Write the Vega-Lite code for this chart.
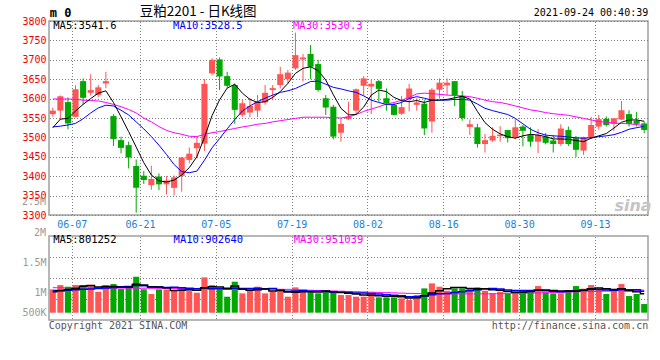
{
"$schema": "https://vega.github.io/schema/vega-lite/v6.json",
"autosize": {"type": "pad"},
"padding": {"left": 21, "top": 3, "right": 0, "bottom": 0},
"background": "white",
"spacing": 21,
"bounds": "flush",
"datasets": {"k": [
{"d":"06-02","o":3560,"h":3577,"l":3553,"c":3569,"v":983000,"m5":3525,"m10":3527,"m30":3599,"v5":884000,"v10":930000,"v30":1054000},
{"d":"06-03","o":3569,"h":3608,"l":3545,"c":3606,"v":1165000,"m5":3547,"m10":3529,"m30":3599,"v5":930000,"v10":939000,"v30":1052000},
{"d":"06-04","o":3591,"h":3603,"l":3521,"c":3536,"v":1096000,"m5":3549,"m10":3532,"m30":3599,"v5":977000,"v10":949000,"v30":1050000},
{"d":"06-07","o":3553,"h":3634,"l":3551,"c":3624,"v":1165000,"m5":3568,"m10":3536,"m30":3598,"v5":1023000,"v10":967000,"v30":1049000},
{"d":"06-08","o":3645,"h":3652,"l":3585,"c":3602,"v":1165000,"m5":3585,"m10":3548,"m30":3596,"v5":1115000,"v10":986000,"v30":1047000},
{"d":"06-09","o":3615,"h":3663,"l":3608,"c":3622,"v":1123000,"m5":3600,"m10":3563,"m30":3595,"v5":1143000,"v10":1004000,"v30":1045000},
{"d":"06-10","o":3609,"h":3635,"l":3604,"c":3629,"v":884000,"m5":3614,"m10":3576,"m30":3594,"v5":1087000,"v10":1023000,"v30":1043000},
{"d":"06-11","o":3639,"h":3669,"l":3627,"c":3645,"v":1165000,"m5":3620,"m10":3583,"m30":3590,"v5":1101000,"v10":1042000,"v30":1041000},
{"d":"06-15","o":3555,"h":3560,"l":3478,"c":3496,"v":1208000,"m5":3590,"m10":3581,"m30":3585,"v5":1109000,"v10":1060000,"v30":1039000},
{"d":"06-16","o":3493,"h":3502,"l":3459,"c":3473,"v":997000,"m5":3553,"m10":3570,"m30":3579,"v5":1076000,"v10":1096000,"v30":1037000},
{"d":"06-17","o":3480,"h":3489,"l":3420,"c":3448,"v":1123000,"m5":3515,"m10":3558,"m30":3572,"v5":1076000,"v10":1109000,"v30":1035000},
{"d":"06-18","o":3426,"h":3443,"l":3306,"c":3370,"v":1517000,"m5":3475,"m10":3540,"m30":3563,"v5":1202000,"v10":1145000,"v30":1034000},
{"d":"06-21","o":3401,"h":3413,"l":3380,"c":3390,"v":983000,"m5":3435,"m10":3522,"m30":3550,"v5":1165000,"v10":1134000,"v30":1032000},
{"d":"06-22","o":3377,"h":3427,"l":3365,"c":3393,"v":787000,"m5":3403,"m10":3502,"m30":3540,"v5":1082000,"v10":1096000,"v30":1030000},
{"d":"06-23","o":3399,"h":3407,"l":3364,"c":3379,"v":983000,"m5":3388,"m10":3480,"m30":3528,"v5":1079000,"v10":1078000,"v30":1028000},
{"d":"06-24","o":3379,"h":3400,"l":3353,"c":3389,"v":983000,"m5":3385,"m10":3456,"m30":3518,"v5":1051000,"v10":1064000,"v30":1026000},
{"d":"06-25","o":3370,"h":3402,"l":3350,"c":3397,"v":927000,"m5":3390,"m10":3430,"m30":3512,"v5":933000,"v10":1068000,"v30":1023000},
{"d":"06-28","o":3401,"h":3450,"l":3360,"c":3448,"v":1025000,"m5":3403,"m10":3412,"m30":3508,"v5":941000,"v10":1054000,"v30":1021000},
{"d":"06-29","o":3442,"h":3474,"l":3433,"c":3458,"v":927000,"m5":3422,"m10":3409,"m30":3503,"v5":969000,"v10":1026000,"v30":1018000},
{"d":"06-30","o":3472,"h":3502,"l":3446,"c":3486,"v":843000,"m5":3450,"m10":3413,"m30":3502,"v5":941000,"v10":1010000,"v30":1015000},
{"d":"07-01","o":3484,"h":3650,"l":3465,"c":3638,"v":1489000,"m5":3500,"m10":3441,"m30":3508,"v5":1043000,"v10":1047000,"v30":1012000},
{"d":"07-02","o":3665,"h":3704,"l":3660,"c":3700,"v":1165000,"m5":3556,"m10":3473,"m30":3512,"v5":1090000,"v10":1012000,"v30":1010000},
{"d":"07-05","o":3701,"h":3706,"l":3622,"c":3657,"v":983000,"m5":3597,"m10":3497,"m30":3515,"v5":1082000,"v10":1012000,"v30":1007000},
{"d":"07-06","o":3658,"h":3669,"l":3628,"c":3633,"v":674000,"m5":3627,"m10":3522,"m30":3519,"v5":1030000,"v10":1000000,"v30":1004000},
{"d":"07-07","o":3635,"h":3639,"l":3535,"c":3571,"v":1306000,"m5":3637,"m10":3546,"m30":3523,"v5":1123000,"v10":1032000,"v30":1001000},
{"d":"07-08","o":3558,"h":3596,"l":3553,"c":3588,"v":815000,"m5":3614,"m10":3568,"m30":3527,"v5":989000,"v10":1016000,"v30":998000},
{"d":"07-09","o":3564,"h":3601,"l":3552,"c":3581,"v":955000,"m5":3598,"m10":3581,"m30":3530,"v5":947000,"v10":1018000,"v30":996000},
{"d":"07-12","o":3569,"h":3609,"l":3552,"c":3592,"v":1096000,"m5":3590,"m10":3592,"m30":3534,"v5":969000,"v10":1026000,"v30":993000},
{"d":"07-13","o":3590,"h":3635,"l":3584,"c":3615,"v":815000,"m5":3592,"m10":3601,"m30":3536,"v5":997000,"v10":1014000,"v30":990000},
{"d":"07-14","o":3622,"h":3635,"l":3596,"c":3627,"v":884000,"m5":3603,"m10":3609,"m30":3540,"v5":913000,"v10":1018000,"v30":988000},
{"d":"07-15","o":3635,"h":3682,"l":3626,"c":3663,"v":884000,"m5":3618,"m10":3616,"m30":3543,"v5":927000,"v10":958000,"v30":986000},
{"d":"07-16","o":3650,"h":3674,"l":3639,"c":3667,"v":674000,"m5":3639,"m10":3620,"m30":3546,"v5":870000,"v10":909000,"v30":984000},
{"d":"07-19","o":3678,"h":3770,"l":3674,"c":3712,"v":1068000,"m5":3665,"m10":3626,"m30":3549,"v5":865000,"v10":917000,"v30":965000},
{"d":"07-20","o":3701,"h":3715,"l":3644,"c":3706,"v":884000,"m5":3678,"m10":3635,"m30":3552,"v5":879000,"v10":938000,"v30":955000},
{"d":"07-21","o":3715,"h":3738,"l":3650,"c":3682,"v":927000,"m5":3682,"m10":3644,"m30":3552,"v5":887000,"v10":900000,"v30":945000},
{"d":"07-22","o":3689,"h":3700,"l":3618,"c":3622,"v":815000,"m5":3672,"m10":3645,"m30":3552,"v5":873000,"v10":900000,"v30":935000},
{"d":"07-23","o":3601,"h":3609,"l":3558,"c":3577,"v":884000,"m5":3648,"m10":3637,"m30":3552,"v5":916000,"v10":894000,"v30":925000},
{"d":"07-26","o":3579,"h":3584,"l":3495,"c":3502,"v":884000,"m5":3610,"m10":3629,"m30":3551,"v5":879000,"v10":872000,"v30":915000},
{"d":"07-27","o":3512,"h":3549,"l":3489,"c":3535,"v":744000,"m5":3575,"m10":3625,"m30":3550,"v5":851000,"v10":865000,"v30":905000},
{"d":"07-28","o":3547,"h":3592,"l":3545,"c":3554,"v":744000,"m5":3558,"m10":3620,"m30":3553,"v5":815000,"v10":851000,"v30":895000},
{"d":"07-29","o":3569,"h":3626,"l":3558,"c":3624,"v":674000,"m5":3559,"m10":3616,"m30":3559,"v5":786000,"v10":830000,"v30":885000},
{"d":"07-30","o":3633,"h":3658,"l":3607,"c":3652,"v":674000,"m5":3578,"m10":3607,"m30":3567,"v5":744000,"v10":830000,"v30":875000},
{"d":"08-02","o":3631,"h":3648,"l":3560,"c":3638,"v":843000,"m5":3609,"m10":3596,"m30":3573,"v5":736000,"v10":807000,"v30":865000},
{"d":"08-03","o":3645,"h":3648,"l":3592,"c":3625,"v":646000,"m5":3622,"m10":3590,"m30":3579,"v5":716000,"v10":784000,"v30":855000},
{"d":"08-04","o":3601,"h":3626,"l":3569,"c":3588,"v":646000,"m5":3618,"m10":3585,"m30":3586,"v5":697000,"v10":756000,"v30":845000},
{"d":"08-05","o":3584,"h":3588,"l":3556,"c":3558,"v":646000,"m5":3603,"m10":3585,"m30":3590,"v5":691000,"v10":738000,"v30":835000},
{"d":"08-06","o":3561,"h":3607,"l":3558,"c":3578,"v":604000,"m5":3595,"m10":3590,"m30":3596,"v5":677000,"v10":711000,"v30":825000},
{"d":"08-09","o":3600,"h":3638,"l":3567,"c":3626,"v":534000,"m5":3592,"m10":3600,"m30":3603,"v5":616000,"v10":676000,"v30":815000},
{"d":"08-10","o":3584,"h":3601,"l":3569,"c":3590,"v":744000,"m5":3595,"m10":3605,"m30":3612,"v5":635000,"v10":676000,"v30":810000},
{"d":"08-11","o":3587,"h":3597,"l":3506,"c":3523,"v":1025000,"m5":3590,"m10":3601,"m30":3614,"v5":711000,"v10":704000,"v30":805000},
{"d":"08-12","o":3541,"h":3627,"l":3512,"c":3623,"v":1236000,"m5":3596,"m10":3596,"m30":3613,"v5":829000,"v10":760000,"v30":800000},
{"d":"08-13","o":3623,"h":3652,"l":3600,"c":3641,"v":1096000,"m5":3596,"m10":3596,"m30":3611,"v5":927000,"v10":803000,"v30":797000},
{"d":"08-16","o":3634,"h":3652,"l":3609,"c":3641,"v":927000,"m5":3598,"m10":3596,"m30":3609,"v5":1005000,"v10":811000,"v30":795000},
{"d":"08-17","o":3645,"h":3645,"l":3581,"c":3609,"v":1025000,"m5":3602,"m10":3598,"m30":3608,"v5":1062000,"v10":849000,"v30":793000},
{"d":"08-18","o":3607,"h":3620,"l":3543,"c":3550,"v":1025000,"m5":3606,"m10":3598,"m30":3607,"v5":1062000,"v10":886000,"v30":792000},
{"d":"08-19","o":3527,"h":3546,"l":3506,"c":3534,"v":1025000,"m5":3599,"m10":3596,"m30":3605,"v5":1019000,"v10":924000,"v30":792000},
{"d":"08-20","o":3526,"h":3535,"l":3474,"c":3483,"v":1068000,"m5":3567,"m10":3586,"m30":3601,"v5":1014000,"v10":971000,"v30":793000},
{"d":"08-23","o":3483,"h":3509,"l":3461,"c":3493,"v":927000,"m5":3538,"m10":3575,"m30":3596,"v5":1014000,"v10":1010000,"v30":795000},
{"d":"08-24","o":3492,"h":3526,"l":3489,"c":3504,"v":815000,"m5":3521,"m10":3569,"m30":3592,"v5":972000,"v10":1017000,"v30":798000},
{"d":"08-25","o":3503,"h":3529,"l":3489,"c":3507,"v":884000,"m5":3509,"m10":3564,"m30":3590,"v5":944000,"v10":1003000,"v30":800000},
{"d":"08-26","o":3519,"h":3519,"l":3487,"c":3498,"v":787000,"m5":3502,"m10":3559,"m30":3586,"v5":897000,"v10":958000,"v30":805000},
{"d":"08-27","o":3500,"h":3547,"l":3495,"c":3526,"v":884000,"m5":3498,"m10":3549,"m30":3581,"v5":859000,"v10":937000,"v30":810000},
{"d":"08-30","o":3528,"h":3532,"l":3477,"c":3517,"v":955000,"m5":3504,"m10":3535,"m30":3576,"v5":865000,"v10":939000,"v30":815000},
{"d":"08-31","o":3506,"h":3526,"l":3476,"c":3489,"v":955000,"m5":3508,"m10":3521,"m30":3571,"v5":893000,"v10":933000,"v30":825000},
{"d":"09-01","o":3489,"h":3521,"l":3459,"c":3506,"v":1123000,"m5":3506,"m10":3512,"m30":3568,"v5":941000,"v10":943000,"v30":835000},
{"d":"09-02","o":3502,"h":3511,"l":3482,"c":3486,"v":843000,"m5":3502,"m10":3506,"m30":3564,"v5":952000,"v10":924000,"v30":845000},
{"d":"09-03","o":3492,"h":3506,"l":3461,"c":3483,"v":815000,"m5":3496,"m10":3504,"m30":3561,"v5":938000,"v10":899000,"v30":855000},
{"d":"09-06","o":3483,"h":3534,"l":3478,"c":3523,"v":815000,"m5":3496,"m10":3503,"m30":3559,"v5":910000,"v10":888000,"v30":862000},
{"d":"09-07","o":3519,"h":3528,"l":3478,"c":3483,"v":955000,"m5":3495,"m10":3501,"m30":3557,"v5":910000,"v10":902000,"v30":870000},
{"d":"09-08","o":3498,"h":3504,"l":3450,"c":3468,"v":1123000,"m5":3492,"m10":3499,"m30":3553,"v5":910000,"v10":926000,"v30":878000},
{"d":"09-09","o":3466,"h":3502,"l":3455,"c":3500,"v":1011000,"m5":3489,"m10":3498,"m30":3549,"v5":944000,"v10":949000,"v30":885000},
{"d":"09-10","o":3500,"h":3553,"l":3497,"c":3532,"v":1165000,"m5":3498,"m10":3499,"m30":3545,"v5":1014000,"v10":977000,"v30":892000},
{"d":"09-13","o":3528,"h":3558,"l":3520,"c":3547,"v":955000,"m5":3504,"m10":3502,"m30":3541,"v5":1042000,"v10":977000,"v30":900000},
{"d":"09-14","o":3548,"h":3554,"l":3528,"c":3532,"v":787000,"m5":3510,"m10":3504,"m30":3539,"v5":1008000,"v10":960000,"v30":908000},
{"d":"09-15","o":3535,"h":3549,"l":3517,"c":3549,"v":955000,"m5":3524,"m10":3507,"m30":3537,"v5":975000,"v10":943000,"v30":915000},
{"d":"09-16","o":3546,"h":3594,"l":3545,"c":3570,"v":1208000,"m5":3539,"m10":3513,"m30":3536,"v5":1014000,"v10":979000,"v30":925000},
{"d":"09-17","o":3560,"h":3570,"l":3528,"c":3535,"v":702000,"m5":3545,"m10":3521,"m30":3535,"v5":922000,"v10":968000,"v30":932000},
{"d":"09-22","o":3543,"h":3566,"l":3528,"c":3535,"v":787000,"m5":3545,"m10":3525,"m30":3533,"v5":888000,"v10":965000,"v30":940000},
{"d":"09-23","o":3536,"h":3541,"l":3511,"c":3519,"v":365000,"m5":3541.6,"m10":3528.5,"m30":3530.3,"v5":801252,"v10":902640,"v30":951039}
]},
"config": {
  "view": {"stroke": "#a0a0a0", "strokeWidth": 1.5},
  "axis": {"domain": false, "ticks": false, "title": null, "labelFont": "DejaVu Sans Mono", "labelFontSize": 10, "gridColor": "#808080", "gridDash": [1, 2], "gridDashOffset": 2.5, "gridWidth": 1, "labelOverlap": false},
  "text": {"font": "DejaVu Sans Mono", "fontSize": 10.5, "baseline": "middle"}
},
"vconcat": [
 {
  "width": 599, "height": 194,
  "layer": [
   {
    "encoding": {"x": {"field": "d", "type": "ordinal", "scale": {"type": "band", "paddingInner": 0.2, "paddingOuter": 0.1}, "axis": null}},
    "layer": [
    {"data": {"name": "k"}, "mark": {"type": "rule", "strokeWidth": 1},
     "encoding": {
       "y": {"field": "l", "type": "quantitative", "scale": {"domain": [3300, 3800], "nice": false, "zero": false},
         "axis": {"values": [3300,3350,3400,3450,3500,3550,3600,3650,3700,3750,3800], "format": "d", "labelColor": "#ee0000", "labelPadding": 3, "grid": true}},
       "y2": {"field": "h"},
       "color": {"condition": {"test": "datum.c >= datum.o", "value": "#ff5555"}, "value": "#00a800"}}},
    {"data": {"name": "k"}, "mark": {"type": "bar"},
     "encoding": {
       "y": {"field": "o", "type": "quantitative", "axis": {"values": [3300,3350,3400,3450,3500,3550,3600,3650,3700,3750,3800], "format": "d", "labelColor": "#ee0000", "labelPadding": 3, "grid": true}},
       "y2": {"field": "c"},
       "color": {"condition": {"test": "datum.c >= datum.o", "value": "#ff5555"}, "value": "#00a800"}}},
    {"data": {"name": "k"}, "mark": {"type": "line", "color": "#ff00ff", "strokeWidth": 1}, "encoding": {"y": {"field": "m30", "type": "quantitative", "axis": {"values": [3300,3350,3400,3450,3500,3550,3600,3650,3700,3750,3800], "format": "d", "labelColor": "#ee0000", "labelPadding": 3, "grid": true}}}},
    {"data": {"name": "k"}, "mark": {"type": "line", "color": "#0000ff", "strokeWidth": 1}, "encoding": {"y": {"field": "m10", "type": "quantitative", "axis": {"values": [3300,3350,3400,3450,3500,3550,3600,3650,3700,3750,3800], "format": "d", "labelColor": "#ee0000", "labelPadding": 3, "grid": true}}}},
    {"data": {"name": "k"}, "mark": {"type": "line", "color": "#000000", "strokeWidth": 1}, "encoding": {"y": {"field": "m5", "type": "quantitative", "axis": {"values": [3300,3350,3400,3450,3500,3550,3600,3650,3700,3750,3800], "format": "d", "labelColor": "#ee0000", "labelPadding": 3, "grid": true}}}},
    {"data": {"values": [{}]}, "mark": {"type": "text", "align": "left", "dx": -3, "fontWeight": "bold", "fontSize": 12, "color": "#000000"},
     "encoding": {"x": {"datum": "06-02", "type": "ordinal", "axis": null}, "y": {"datum": 3820, "type": "quantitative", "axis": {"values": [3300,3350,3400,3450,3500,3550,3600,3650,3700,3750,3800], "format": "d", "labelColor": "#ee0000", "labelPadding": 3, "grid": true}}, "text": {"value": "m 0"}}},
    {"data": {"values": [{}]}, "mark": {"type": "text", "align": "left", "dx": 3.5, "font": "Noto Sans CJK SC", "fontSize": 13.5, "color": "#000000"},
     "encoding": {"x": {"datum": "06-18", "type": "ordinal", "axis": null}, "y": {"datum": 3824, "type": "quantitative", "axis": {"values": [3300,3350,3400,3450,3500,3550,3600,3650,3700,3750,3800], "format": "d", "labelColor": "#ee0000", "labelPadding": 3, "grid": true}}, "text": {"value": "豆粕2201 - 日K线图"}}},
    {"data": {"values": [{}]}, "mark": {"type": "text", "align": "right", "dx": 4, "fontSize": 10, "color": "#000000"},
     "encoding": {"x": {"datum": "09-23", "type": "ordinal", "axis": null}, "y": {"datum": 3820, "type": "quantitative", "axis": {"values": [3300,3350,3400,3450,3500,3550,3600,3650,3700,3750,3800], "format": "d", "labelColor": "#ee0000", "labelPadding": 3, "grid": true}}, "text": {"value": "2021-09-24 00:40:39"}}},
    {"data": {"values": [{}]}, "mark": {"type": "text", "align": "left", "dx": 0.5, "color": "#000000"},
     "encoding": {"x": {"datum": "06-02", "type": "ordinal", "axis": null}, "y": {"datum": 3786, "type": "quantitative", "axis": {"values": [3300,3350,3400,3450,3500,3550,3600,3650,3700,3750,3800], "format": "d", "labelColor": "#ee0000", "labelPadding": 3, "grid": true}}, "text": {"value": "MA5:3541.6"}}},
    {"data": {"values": [{}]}, "mark": {"type": "text", "align": "left", "dx": -1, "color": "#0000ff"},
     "encoding": {"x": {"datum": "06-25", "type": "ordinal", "axis": null}, "y": {"datum": 3786, "type": "quantitative", "axis": {"values": [3300,3350,3400,3450,3500,3550,3600,3650,3700,3750,3800], "format": "d", "labelColor": "#ee0000", "labelPadding": 3, "grid": true}}, "text": {"value": "MA10:3528.5"}}},
    {"data": {"values": [{}]}, "mark": {"type": "text", "align": "left", "dx": -2.4, "color": "#ff00ff"},
     "encoding": {"x": {"datum": "07-19", "type": "ordinal", "axis": null}, "y": {"datum": 3786, "type": "quantitative", "axis": {"values": [3300,3350,3400,3450,3500,3550,3600,3650,3700,3750,3800], "format": "d", "labelColor": "#ee0000", "labelPadding": 3, "grid": true}}, "text": {"value": "MA30:3530.3"}}},
    {"data": {"values": [{}]}, "mark": {"type": "text", "align": "center", "dx": 4, "font": "DejaVu Sans", "fontStyle": "italic", "fontWeight": "bold", "fontSize": 16, "color": "#c4c4c4"},
     "encoding": {"x": {"datum": "09-17", "type": "ordinal", "axis": null}, "y": {"datum": 3323, "type": "quantitative", "axis": {"values": [3300,3350,3400,3450,3500,3550,3600,3650,3700,3750,3800], "format": "d", "labelColor": "#ee0000", "labelPadding": 3, "grid": true}}, "text": {"value": "sina"}}}
    ]
   },
   {"data": {"name": "k"}, "mark": {"type": "point", "opacity": 0},
    "encoding": {"x": {"field": "d", "type": "ordinal", "scale": {"type": "point", "padding": 0.5, "align": 0},
      "axis": {"orient": "bottom", "values": ["06-07","06-21","07-05","07-19","08-02","08-16","08-30","09-13"], "labelColor": "#1e7fd2", "labelPadding": 4, "labelAngle": 0, "grid": true}}}}
  ],
  "resolve": {"scale": {"x": "independent"}}
 },
 {
  "width": 599, "height": 84,
  "layer": [
   {
    "encoding": {"x": {"field": "d", "type": "ordinal", "scale": {"type": "band", "paddingInner": 0.2, "paddingOuter": 0.1}, "axis": null}},
    "layer": [
      {"data": {"name": "k"}, "mark": {"type": "bar"},
       "encoding": {
         "y": {"field": "v", "type": "quantitative", "scale": {"domain": [-308000, 3233000], "nice": false, "zero": false},
           "axis": {"values": [0, 860000, 2124000], "labelExpr": "datum.value == 0 ? '500K' : datum.value == 860000 ? '1M' : '1.5M'", "labelColor": "#999999", "grid": false, "labelPadding": 3}},
         "y2": {"datum": 0},
         "color": {"condition": {"test": "datum.c >= datum.o", "value": "#ff5555"}, "value": "#00a800"}}},
      {"data": {"name": "k"}, "mark": {"type": "line", "color": "#ff00ff", "strokeWidth": 1, "interpolate": "step"}, "encoding": {"y": {"field": "v30", "type": "quantitative", "axis": {"values": [0, 860000, 2124000], "labelExpr": "datum.value == 0 ? '500K' : datum.value == 860000 ? '1M' : '1.5M'", "labelColor": "#999999", "grid": false, "labelPadding": 3}}}},
      {"data": {"name": "k"}, "mark": {"type": "line", "color": "#0000ff", "strokeWidth": 1.5, "interpolate": "step"}, "encoding": {"y": {"field": "v10", "type": "quantitative", "axis": {"values": [0, 860000, 2124000], "labelExpr": "datum.value == 0 ? '500K' : datum.value == 860000 ? '1M' : '1.5M'", "labelColor": "#999999", "grid": false, "labelPadding": 3}}}},
      {"data": {"name": "k"}, "mark": {"type": "line", "color": "#000000", "strokeWidth": 1.5, "interpolate": "step"}, "encoding": {"y": {"field": "v5", "type": "quantitative", "axis": {"values": [0, 860000, 2124000], "labelExpr": "datum.value == 0 ? '500K' : datum.value == 860000 ? '1M' : '1.5M'", "labelColor": "#999999", "grid": false, "labelPadding": 3}}}},
      {"data": {"values": [{}]}, "mark": {"type": "text", "align": "right", "dx": -6.8, "fontSize": 10, "color": "#999999"},
       "encoding": {"x": {"datum": "06-02", "type": "ordinal", "axis": null}, "y": {"datum": 3380000, "type": "quantitative", "axis": {"values": [0, 860000, 2124000], "labelExpr": "datum.value == 0 ? '500K' : datum.value == 860000 ? '1M' : '1.5M'", "labelColor": "#999999", "grid": false, "labelPadding": 3}}, "text": {"value": "2M"}}},
      {"data": {"values": [{}]}, "mark": {"type": "text", "align": "right", "dx": -6.8, "fontSize": 10, "color": "#999999"},
       "encoding": {"x": {"datum": "06-02", "type": "ordinal", "axis": null}, "y": {"datum": 4666000, "type": "quantitative", "axis": {"values": [0, 860000, 2124000], "labelExpr": "datum.value == 0 ? '500K' : datum.value == 860000 ? '1M' : '1.5M'", "labelColor": "#999999", "grid": false, "labelPadding": 3}}, "text": {"value": "2.5M"}}},
      {"data": {"values": [{}]}, "mark": {"type": "text", "align": "left", "dx": 0.5, "color": "#000000"},
       "encoding": {"x": {"datum": "06-02", "type": "ordinal", "axis": null}, "y": {"datum": 3064000, "type": "quantitative", "axis": {"values": [0, 860000, 2124000], "labelExpr": "datum.value == 0 ? '500K' : datum.value == 860000 ? '1M' : '1.5M'", "labelColor": "#999999", "grid": false, "labelPadding": 3}}, "text": {"value": "MA5:801252"}}},
      {"data": {"values": [{}]}, "mark": {"type": "text", "align": "left", "dx": -0.5, "color": "#0000ff"},
       "encoding": {"x": {"datum": "06-25", "type": "ordinal", "axis": null}, "y": {"datum": 3064000, "type": "quantitative", "axis": {"values": [0, 860000, 2124000], "labelExpr": "datum.value == 0 ? '500K' : datum.value == 860000 ? '1M' : '1.5M'", "labelColor": "#999999", "grid": false, "labelPadding": 3}}, "text": {"value": "MA10:902640"}}},
      {"data": {"values": [{}]}, "mark": {"type": "text", "align": "left", "dx": -1.7, "color": "#ff00ff"},
       "encoding": {"x": {"datum": "07-19", "type": "ordinal", "axis": null}, "y": {"datum": 3064000, "type": "quantitative", "axis": {"values": [0, 860000, 2124000], "labelExpr": "datum.value == 0 ? '500K' : datum.value == 860000 ? '1M' : '1.5M'", "labelColor": "#999999", "grid": false, "labelPadding": 3}}, "text": {"value": "MA30:951039"}}},
      {"data": {"values": [{}]}, "mark": {"type": "text", "align": "left", "dx": -4, "fontSize": 10, "color": "#555555"},
       "encoding": {"x": {"datum": "06-02", "type": "ordinal", "axis": null}, "y": {"datum": -540000, "type": "quantitative", "axis": {"values": [0, 860000, 2124000], "labelExpr": "datum.value == 0 ? '500K' : datum.value == 860000 ? '1M' : '1.5M'", "labelColor": "#999999", "grid": false, "labelPadding": 3}}, "text": {"value": "Copyright 2021 SINA.COM"}}},
      {"data": {"values": [{}]}, "mark": {"type": "text", "align": "right", "dx": 4, "fontSize": 10, "color": "#555555"},
       "encoding": {"x": {"datum": "09-23", "type": "ordinal", "axis": null}, "y": {"datum": -540000, "type": "quantitative", "axis": {"values": [0, 860000, 2124000], "labelExpr": "datum.value == 0 ? '500K' : datum.value == 860000 ? '1M' : '1.5M'", "labelColor": "#999999", "grid": false, "labelPadding": 3}}, "text": {"value": "http://finance.sina.com.cn"}}}
    ]
   },
   {"data": {"name": "k"}, "mark": {"type": "point", "opacity": 0},
    "encoding": {
      "x": {"field": "d", "type": "ordinal", "scale": {"type": "point", "padding": 0.5, "align": 0},
        "axis": {"orient": "bottom", "values": ["06-07","06-21","07-05","07-19","08-02","08-16","08-30","09-13"], "labels": false, "grid": true}},
      "y": {"field": "v", "type": "quantitative", "scale": {"domain": [-308000, 3233000], "nice": false, "zero": false},
        "axis": {"orient": "right", "labels": false, "grid": true, "values": [577000, 1462000, 2348000]}}}}
  ],
  "resolve": {"scale": {"x": "independent", "y": "independent"}}
 }
]
}
